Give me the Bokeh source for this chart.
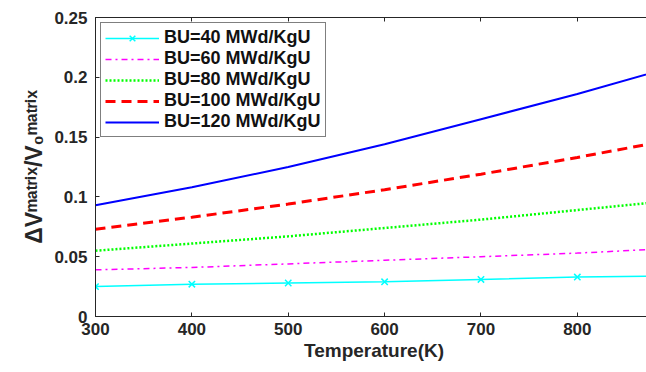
from bokeh.plotting import figure
from bokeh.models import LinearAxis, Range1d, Legend, LegendItem, FixedTicker, CustomJSTickFormatter
from bokeh.embed import file_html
from bokeh.resources import INLINE

temperature = [300, 400, 500, 600, 700, 800, 900]
bu40 = [0.025, 0.027, 0.028, 0.029, 0.031, 0.033, 0.034]
bu60 = [0.039, 0.041, 0.044, 0.047, 0.050, 0.053, 0.057]
bu80 = [0.055, 0.061, 0.067, 0.074, 0.081, 0.089, 0.097]
bu100 = [0.073, 0.083, 0.094, 0.106, 0.119, 0.133, 0.148]
bu120 = [0.093, 0.108, 0.125, 0.144, 0.165, 0.186, 0.209]
labels = ["BU=40 MWd/KgU", "BU=60 MWd/KgU", "BU=80 MWd/KgU", "BU=100 MWd/KgU", "BU=120 MWd/KgU"]
x_ticks = [300, 400, 500, 600, 700, 800]
y_ticks = [0, 0.05, 0.1, 0.15, 0.2, 0.25]

FONT = "Liberation Sans"
AX = "#262626"

p = figure(width=652, height=372, output_backend="svg", toolbar_location=None,
           x_range=Range1d(300, 878), y_range=Range1d(0, 0.25),
           min_border_left=95, min_border_right=0, min_border_top=17, min_border_bottom=56)
p.outline_line_color = AX
p.grid.visible = False

fmt = CustomJSTickFormatter(code="return tick.toFixed(2).replace(/0+$/,'').replace(/\\.$/,'');")
for ax in p.xaxis + p.yaxis:
    ax.major_tick_in = 4
    ax.major_tick_out = 0
    ax.minor_tick_line_color = None
    ax.axis_line_color = AX
    ax.major_tick_line_color = AX
    ax.major_label_text_font = FONT
    ax.major_label_text_font_style = "bold"
    ax.major_label_text_font_size = "17px"
    ax.major_label_text_color = "#262626"
    ax.axis_label_text_font = FONT
    ax.axis_label_text_font_style = "bold"
    ax.axis_label_text_color = "#262626"
p.xaxis.ticker = FixedTicker(ticks=x_ticks)
p.yaxis.ticker = FixedTicker(ticks=y_ticks)
p.yaxis.formatter = fmt
p.xaxis.axis_label = "Temperature(K)"
p.xaxis.axis_label_text_font_size = "19px"
p.xaxis.axis_label_standoff = 2
p.xaxis.major_label_standoff = 6
p.yaxis.axis_label = "ΔVᵐᵃᵗʳⁱˣ/V₀ᵐᵃᵗʳⁱˣ"
p.yaxis.axis_label_text_font_size = "23px"
p.yaxis.axis_label_standoff = 4
p.yaxis.major_label_standoff = 8

top = LinearAxis(ticker=FixedTicker(ticks=x_ticks), major_tick_in=4, major_tick_out=0,
                 minor_tick_line_color=None, major_label_text_alpha=0,
                 major_label_text_font_size="1px", axis_line_color=AX, major_tick_line_color=AX)
p.add_layout(top, "above")

r1 = p.line(temperature, bu40, line_color="#00FFFF", line_width=1.5)
r1m = p.scatter(temperature, bu40, marker="x", size=9, line_color="#00FFFF", line_width=1.5)
r2 = p.line(temperature, bu60, line_color="#FF00FF", line_width=1.5, line_dash="dashdot")
r3 = p.line(temperature, bu80, line_color="#00FF00", line_width=2.5, line_dash="2 2")
r4 = p.line(temperature, bu100, line_color="#FF0000", line_width=3, line_dash="10 6")
r5 = p.line(temperature, bu120, line_color="#0000FF", line_width=2)

legend = Legend(items=[
    LegendItem(label=labels[0], renderers=[r1, r1m]),
    LegendItem(label=labels[1], renderers=[r2]),
    LegendItem(label=labels[2], renderers=[r3]),
    LegendItem(label=labels[3], renderers=[r4]),
    LegendItem(label=labels[4], renderers=[r5]),
], location=(5, 179))
legend.margin = 0
legend.padding = 4
legend.spacing = 0
legend.label_height = 20
legend.glyph_height = 20
legend.glyph_width = 54
legend.label_standoff = 5
legend.label_text_font = FONT
legend.label_text_font_style = "bold"
legend.label_text_font_size = "18px"
legend.label_text_color = "#111111"
legend.border_line_color = "#000000"
legend.border_line_width = 1
legend.background_fill_alpha = 1
p.add_layout(legend)

open("out.html", "w").write(file_html(p, INLINE))
